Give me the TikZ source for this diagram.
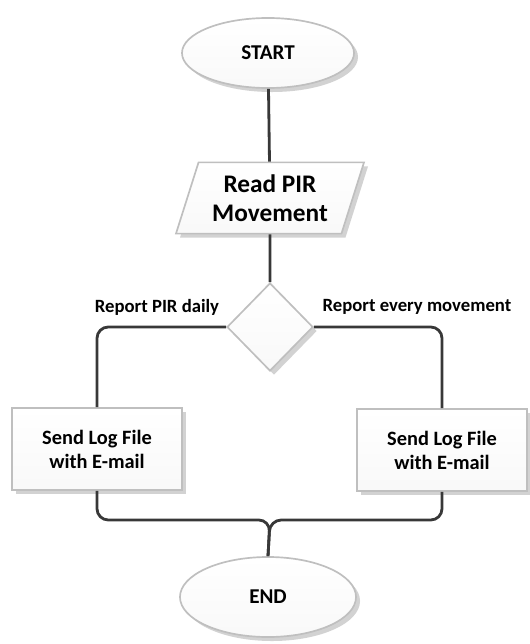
\documentclass[tikz,border=0pt]{standalone}
\usepackage{fontspec}
\setmainfont{Carlito}
\usetikzlibrary{shapes.geometric,shadows}

\begin{document}
\begin{tikzpicture}[x=0.025cm, y=-0.025cm,
    block/.style={draw=gray!50, line width=1.2pt, top color=white, bottom color=gray!5,
      drop shadow={shadow xshift=0.1cm, shadow yshift=-0.1cm, fill=gray!70, opacity=0.5},
      font=\bfseries, align=center, inner sep=0pt},
    term/.style={block, ellipse, font=\fontsize{15}{17}\selectfont\bfseries},
    logbox/.style={block, rectangle, minimum width=4.25cm, minimum height=2.05cm,
      font=\fontsize{14.5}{17}\selectfont\bfseries},
    lbl/.style={font=\fontsize{13.3}{15}\selectfont\bfseries},
    conn/.style={draw=black!78, line width=2pt, rounded corners=8pt}]
    \useasboundingbox (0,0) rectangle (529,644);
    % shapes
    \node[term, minimum width=4.3cm, minimum height=1.75cm] (start) at (268,53) {START};
    \node[block, trapezium, trapezium left angle=69, trapezium right angle=111,
      trapezium stretches=true, minimum width=4.7cm, minimum height=1.78cm,
      font=\fontsize{18}{21}\selectfont\bfseries] (read) at (270,198) {Read PIR\\Movement};
    \node[block, diamond, minimum width=2.15cm, minimum height=2.2cm] (dec) at (270,327) {};
    \node[logbox] (logA) at (97,449) {Send Log File\\with E-mail};
    \node[logbox] (logB) at (442,450) {Send Log File\\with E-mail};
    \node[term, minimum width=4.4cm, minimum height=2cm] (end) at (268,597) {END};
    \node[lbl] (daily) at (157,307) {Report PIR daily};
    \node[lbl] (every) at (417,307) {Report every movement};
    % connectors
    \coordinate (join) at (270,520);
    \draw[conn] (start) -- (read);
    \draw[conn] (read) -- (dec);
    \draw[conn] (dec.west) -| (logA.north);
    \draw[conn] (dec.east) -| (logB.north);
    \draw[conn] (logA.south) |- (join) -- (end.north);
    \draw[conn] (logB.south) |- (join) -- (end.north);
\end{tikzpicture}
\end{document}
